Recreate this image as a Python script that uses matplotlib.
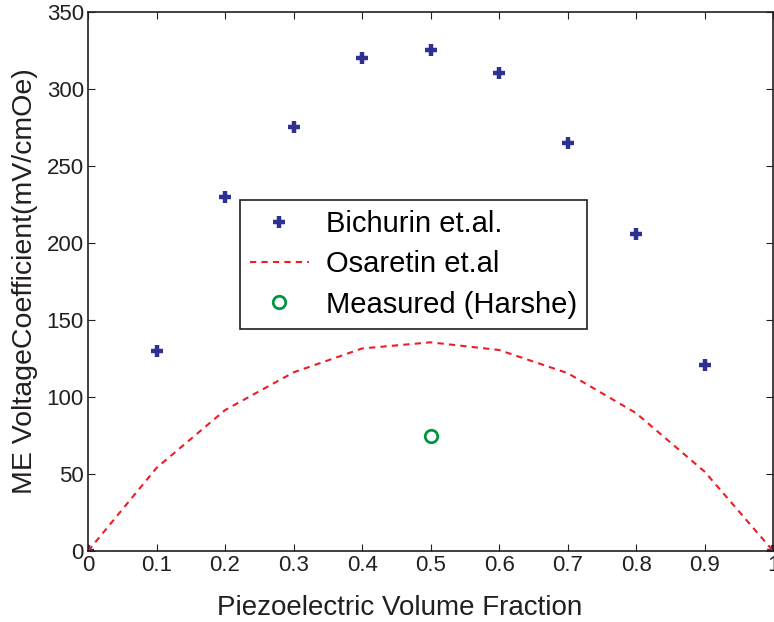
import numpy as np
import matplotlib.pyplot as plt

plt.rcParams['font.family'] = ['Liberation Sans', 'DejaVu Sans']

# volume fraction of piezoelectric phase
frac = [0, 0.1, 0.2, 0.3, 0.4, 0.5, 0.6, 0.7, 0.8, 0.9, 1.0]
# Bichurin model (mV/cmOe)
bichurin = [0, 130, 230, 275, 320, 325.5, 310, 265, 205.5, 120.5, 0]
# Osaretin model
osaretin = [0, 54, 91.5, 116, 131.5, 135.5, 130.5, 115.5, 89.5, 51.5, 0]
# measured point
meas_x = [0.5]
meas_y = [74.5]

fig = plt.figure(figsize=(7.74, 6.22), dpi=100)
ax = fig.add_axes([0.1137, 0.114, 0.8853, 0.867])

ax.plot(frac, bichurin, linestyle='none', marker='+', markersize=9,
        markeredgewidth=3.2, color='#2e3192', label='Bichurin et.al.')
ax.plot(frac, osaretin, linestyle='--', color='#ee1c25', linewidth=1.5,
        dashes=(3, 2.5), label='Osaretin et.al')
ax.plot(meas_x, meas_y, linestyle='none', marker='o', markersize=9,
        markerfacecolor='none', markeredgewidth=2, color='#00963f',
        label='Measured (Harshe)')

ax.set_xlim(0, 1)
ax.set_ylim(0, 350)
ax.set_xticks(np.arange(0, 1.01, 0.1))
ax.set_xticklabels(['0', '0.1', '0.2', '0.3', '0.4', '0.5', '0.6', '0.7', '0.8', '0.9', '1'])
ax.set_yticks(range(0, 351, 50))
ax.tick_params(direction='in', top=True, right=True, labelsize=16, length=5,
               width=0.8, pad=3, colors='#231f20')
for s in ax.spines.values():
    s.set_linewidth(1.2)
    s.set_color('#231f20')

ax.set_xlabel('Piezoelectric Volume Fraction', fontsize=20, color='#231f20')
ax.xaxis.set_label_coords(0.455, -0.082)
ax.set_ylabel('ME VoltageCoefficient(mV/cmOe)', fontsize=20.5, color='#231f20', labelpad=6)

leg = ax.legend(loc='lower left', bbox_to_anchor=(0.222, 0.412), fontsize=21,
                fancybox=False, framealpha=1, edgecolor='#231f20',
                handlelength=2.0, borderpad=0.35, labelspacing=0.42,
                handletextpad=0.6, borderaxespad=0)
leg.get_frame().set_linewidth(1.2)

fig.savefig('out.png', dpi=100)
